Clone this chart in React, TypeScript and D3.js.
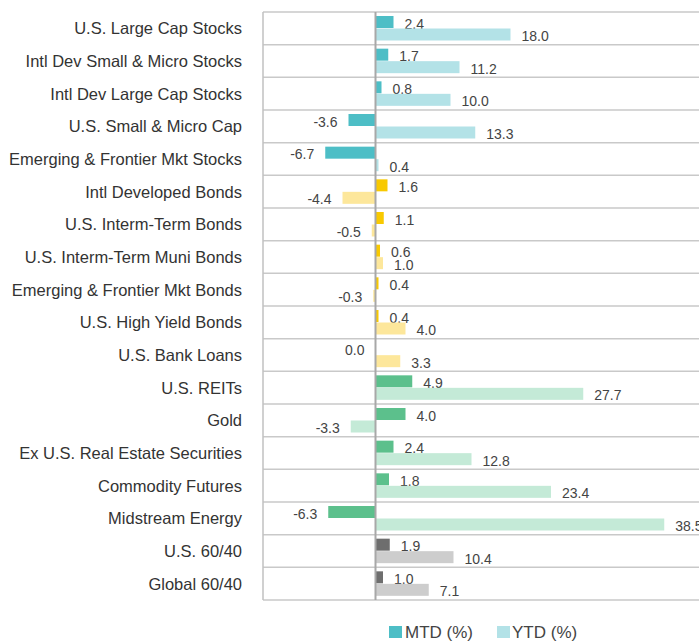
import React from "react";
import * as d3 from "d3";

const categories = [
  "U.S. Large Cap Stocks",
  "Intl Dev Small & Micro Stocks",
  "Intl Dev Large Cap Stocks",
  "U.S. Small & Micro Cap",
  "Emerging & Frontier Mkt Stocks",
  "Intl Developed Bonds",
  "U.S. Interm-Term Bonds",
  "U.S. Interm-Term Muni Bonds",
  "Emerging & Frontier Mkt Bonds",
  "U.S. High Yield Bonds",
  "U.S. Bank Loans",
  "U.S. REITs",
  "Gold",
  "Ex U.S. Real Estate Securities",
  "Commodity Futures",
  "Midstream Energy",
  "U.S. 60/40",
  "Global 60/40",
];
const mtd = [2.4, 1.7, 0.8, -3.6, -6.7, 1.6, 1.1, 0.6, 0.4, 0.4, 0.0, 4.9, 4.0, 2.4, 1.8, -6.3, 1.9, 1.0];
const ytd = [18.0, 11.2, 10.0, 13.3, 0.4, -4.4, -0.5, 1.0, -0.3, 4.0, 3.3, 27.7, -3.3, 12.8, 23.4, 38.5, 10.4, 7.1];
// group per category: 0 stocks, 1 bonds, 2 real assets, 3 blended
const groups = [0, 0, 0, 0, 0, 1, 1, 1, 1, 1, 1, 2, 2, 2, 2, 2, 3, 3];
const series = ["MTD (%)", "YTD (%)"];

const mtdColors = ["#4dbec6", "#f8c900", "#5cc08c", "#6e6e6e"];
const ytdColors = ["#b3e2e7", "#fde79b", "#c4ead7", "#cdcdcd"];

export default function App() {
  const W = 699;
  const H = 641;
  const top = 12;
  const bottom = 600;
  const left = 263;

  const x = d3.scaleLinear().domain([-15, 45]).range([left, left + 450]);
  const y = d3.scaleBand<number>().domain(d3.range(categories.length)).range([top, bottom]).paddingInner(0);
  const rowH = y.bandwidth();
  const sub = d3.scaleBand<string>().domain(series).range([4, 28.5]).paddingInner(0.04);
  const barH = sub.bandwidth();
  const x0 = x(0);
  const fmt = (v: number) => d3.format(".1f")(v).replace("\u2212", "-");
  const font = "'Liberation Sans', Arial, sans-serif";

  return (
    <svg width={W} height={H} style={{ position: "absolute", left: 0, top: 0, background: "#fff" }} fontFamily={font}>
      {/* row gridlines */}
      {d3.range(categories.length + 1).map((i) => {
        const yy = top + i * rowH;
        return <line key={"g" + i} x1={left} x2={W} y1={yy} y2={yy} stroke="#c9c9c9" strokeWidth={1.5} />;
      })}
      <line x1={left} x2={left} y1={top} y2={bottom} stroke="#c0c0c0" strokeWidth={1.5} />

      {categories.map((c, i) => {
        const ry = y(i)!;
        const g = groups[i];
        const vals = [mtd[i], ytd[i]];
        const cols = [mtdColors[g], ytdColors[g]];
        return (
          <g key={c}>
            <text x={242} y={ry + rowH / 2 + 6} textAnchor="end" fontSize={16.5} fill="#333">
              {c}
            </text>
            {vals.map((v, k) => {
              const by = ry + sub(series[k])!;
              const x1 = x(Math.min(0, v));
              const x2 = x(Math.max(0, v));
              const pos = v > 0;
              return (
                <g key={k}>
                  <rect x={x1} y={by} width={Math.max(0, x2 - x1)} height={barH} fill={cols[k]} />
                  <text
                    x={pos ? x2 + 11 : x1 - 11}
                    y={by + barH + 0.5}
                    textAnchor={pos ? "start" : "end"}
                    fontSize={14}
                    fill="#444"
                  >
                    {fmt(v)}
                  </text>
                </g>
              );
            })}
          </g>
        );
      })}

      <line x1={x0} x2={x0} y1={top} y2={bottom} stroke="#a8a8a8" strokeWidth={2} />

      {/* legend */}
      <g>
        <rect x={389} y={626} width={13} height={12} fill={mtdColors[0]} />
        <text x={405} y={638} fontSize={17} fill="#444">
          {series[0]}
        </text>
        <rect x={497} y={626} width={13} height={12} fill={ytdColors[0]} />
        <text x={512} y={638} fontSize={17} fill="#444">
          {series[1]}
        </text>
      </g>
    </svg>
  );
}
